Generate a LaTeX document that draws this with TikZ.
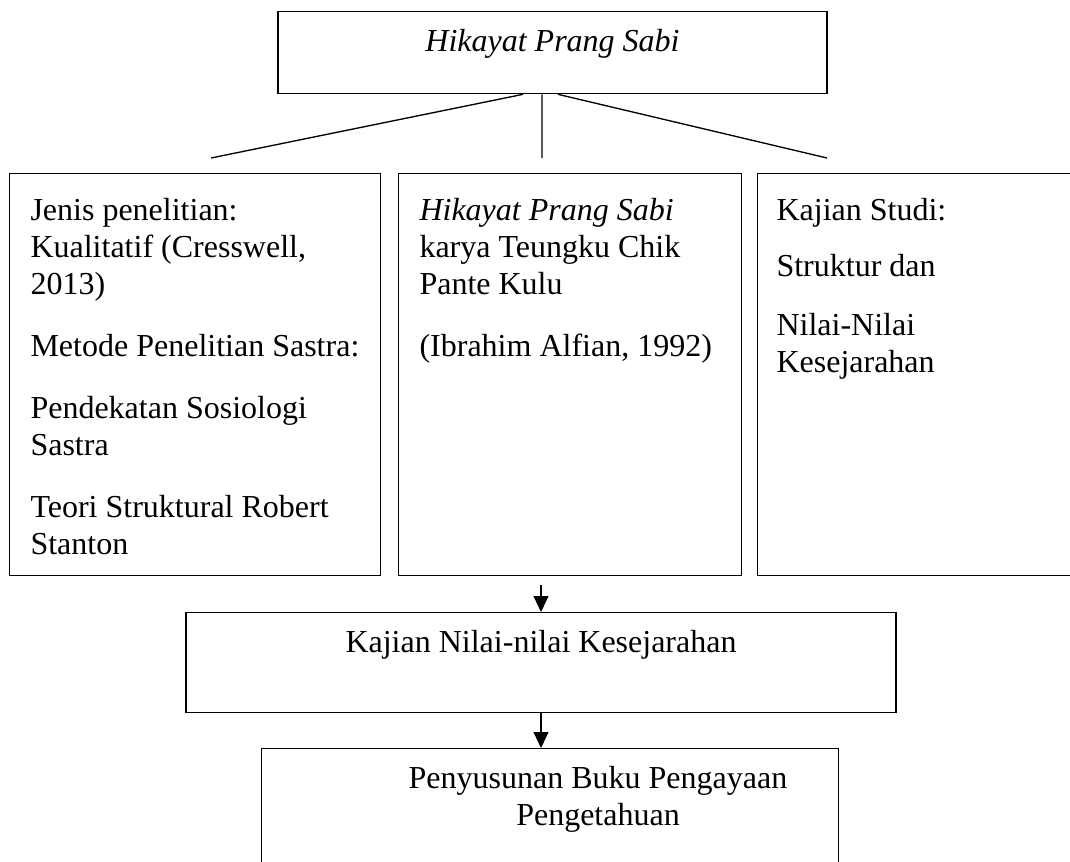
\documentclass[tikz,border=0pt]{standalone}
\usepackage{fontspec}
\setmainfont{Liberation Serif}
\usetikzlibrary{arrows.meta, positioning}

\begin{document}
\begin{tikzpicture}[x=0.375pt, y=-0.375pt,
    kotak/.style={draw, line width=0.5pt, inner sep=0pt},
    isi/.style={align=left, anchor=north west, inner sep=0pt},
    garis/.style={line width=0.5pt},
    panah/.style={line width=0.5pt, -{Triangle[width=5.6pt, length=6pt]}},
    font=\fontsize{12pt}{13.8pt}\selectfont]
    \useasboundingbox (0,0) rectangle (1070,861);

    % judul
    \node[kotak, anchor=north, minimum width=205.9pt, text height=15pt, text depth=15.75pt] (judul) at (552.5,11) {\textit{Hikayat Prang Sabi}};

    % tiga kolom
    \node[kotak, anchor=north west, minimum width=139.1pt, minimum height=150.75pt] (kiri) at (9,173) {};
    \node[kotak, anchor=north west, minimum width=128.6pt, minimum height=150.75pt] (tengah) at (398,173) {};
    \node[kotak, anchor=north west, minimum width=125pt, minimum height=150.75pt] (kanan) at (757,173) {};

    \node[isi] (kiriT) at (30,198) {Jenis penelitian:\\Kualitatif (Cresswell,\\2013)\\[9.5pt]Metode Penelitian Sastra:\\[9.5pt]Pendekatan Sosiologi\\Sastra\\[9.5pt]Teori Struktural Robert\\Stanton};
    \node[isi] (tengahT) at (419,198) {\textit{Hikayat Prang Sabi}\\karya Teungku Chik\\Pante Kulu\\[9.5pt](Ibrahim Alfian, 1992)};
    \node[isi] (kananT) at (776,198) {Kajian Studi:\\[7pt]Struktur dan\\[8.5pt]Nilai-Nilai\\Kesejarahan};

    % garis cabang
    \coordinate (ujungKiri) at (211,158);
    \coordinate (ujungTengah) at (542,158);
    \coordinate (ujungKanan) at (827,158);
    \draw[garis] ([xshift=-11.06pt]judul.south) -- (ujungKiri);
    \draw[garis] ([xshift=-3.94pt]judul.south) -- (ujungTengah);
    \draw[garis] ([xshift=2.06pt]judul.south) -- (ujungKanan);

    % kajian dan penyusunan
    \node[kotak, anchor=north, minimum width=266.25pt, text height=15pt, text depth=22.5pt] (kajian) at (541,612) {Kajian Nilai-nilai Kesejarahan};
    \node[kotak, anchor=north west, minimum width=216.4pt, minimum height=49.5pt] (susun) at (261,748) {};
    \node[align=center, anchor=north, inner sep=0pt] (susunT) at (598,766) {Penyusunan Buku Pengayaan\\Pengetahuan};

    \coordinate (awalPanah) at (541,585);
    \draw[panah] (awalPanah) -- (kajian.north);
    \draw[panah] (kajian.south) -- (kajian.south |- susun.north);
\end{tikzpicture}
\end{document}
